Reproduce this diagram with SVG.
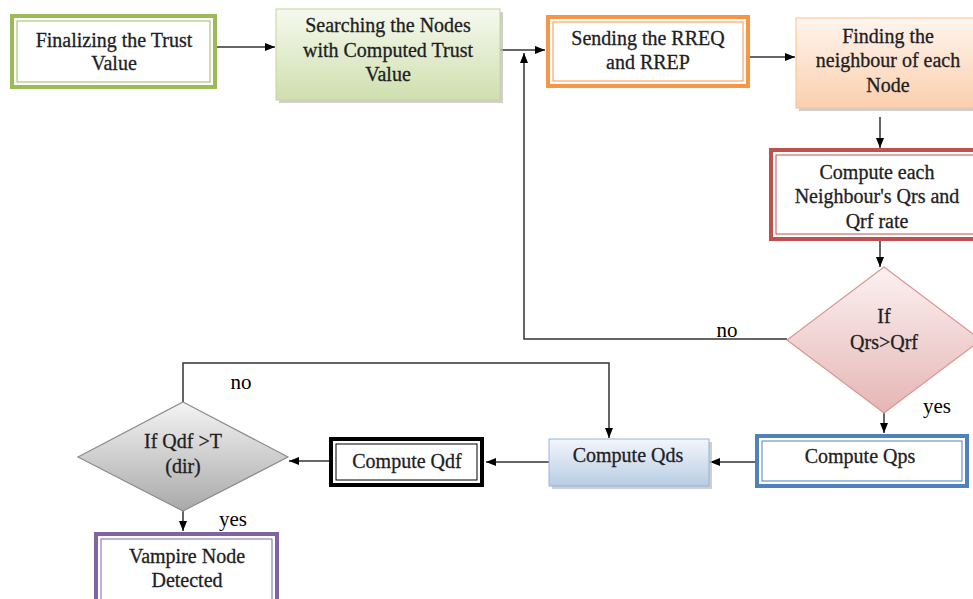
<svg xmlns="http://www.w3.org/2000/svg" width="973" height="599" viewBox="0 0 973 599">
<defs>
<linearGradient id="gGreen" x1="0" y1="0" x2="0" y2="1"><stop offset="0" stop-color="#f6f9ef"/><stop offset="1" stop-color="#cfdfae"/></linearGradient>
<linearGradient id="gOrange" x1="0" y1="0" x2="0" y2="1"><stop offset="0" stop-color="#fff5ee"/><stop offset="1" stop-color="#fbcfad"/></linearGradient>
<linearGradient id="gBlue" x1="0" y1="0" x2="0" y2="1"><stop offset="0" stop-color="#f3f6fb"/><stop offset="1" stop-color="#b8cce4"/></linearGradient>
<linearGradient id="gPink" x1="0" y1="0" x2="0" y2="1"><stop offset="0" stop-color="#fcf1f1"/><stop offset="1" stop-color="#e5b6b5"/></linearGradient>
<linearGradient id="gGray" x1="0" y1="0" x2="0" y2="1"><stop offset="0" stop-color="#f4f4f4"/><stop offset="1" stop-color="#a9a9a9"/></linearGradient>
<marker id="arr" viewBox="0 0 10 10" refX="10" refY="5" markerWidth="10" markerHeight="10" markerUnits="userSpaceOnUse" orient="auto"><path d="M0,1 L10,5 L0,9 z" fill="#000"/></marker>
</defs>
<style>
text{font-family:"Liberation Serif","Times New Roman",serif;font-size:20px;fill:#1e1e24;stroke:#1e1e24;stroke-width:0.3;text-anchor:middle}
.lbl{font-size:21px;fill:#000;stroke:none}
.c{fill:none;stroke:#333;stroke-width:1.5}
.a{marker-end:url(#arr)}
.sh{fill:#bbb;opacity:0.7}
</style>
<rect width="973" height="599" fill="#fff"/>
<g id="connectors">
<path class="c a" d="M217,47 H275"/>
<path class="c a" d="M500,50 H545"/>
<path class="c a" d="M750,57 H795"/>
<path class="c a" d="M880,117 V148"/>
<path class="c a" d="M880,241 V267"/>
<path class="c a" d="M787,339 H524 V53"/>
<path class="c a" d="M884,413 V433"/>
<path class="c a" d="M755,462 H710"/>
<path class="c a" d="M549,462 H486"/>
<path class="c a" d="M329,461 H289"/>
<path class="c a" d="M183,402 V363 H609 V438"/>
<path class="c a" d="M183,511 V531"/>
<text class="lbl" x="727" y="337">no</text>
<text class="lbl" x="937" y="413">yes</text>
<text class="lbl" x="241" y="389">no</text>
<text class="lbl" x="233" y="526">yes</text>
</g>
<g id="n1">
<rect x="12" y="16" width="203" height="71" fill="#fff" stroke="#9bbb59" stroke-width="4"/>
<rect x="17" y="21" width="193" height="61" fill="none" stroke="#9bbb59" stroke-width="1"/>
<text x="114" y="47">Finalizing the Trust</text>
<text x="114" y="70">Value</text>
</g>
<g id="n2">
<rect class="sh" x="279" y="12" width="224" height="91"/>
<rect x="276" y="9" width="224" height="91" fill="url(#gGreen)" stroke="#c3d69b" stroke-width="1"/>
<text x="388" y="32">Searching the Nodes</text>
<text x="388" y="57">with Computed Trust</text>
<text x="388" y="81">Value</text>
</g>
<g id="n3">
<rect x="548" y="17" width="200" height="69" fill="#fff" stroke="#f79646" stroke-width="4"/>
<rect x="553" y="22" width="190" height="59" fill="none" stroke="#f79646" stroke-width="1"/>
<text x="648" y="45">Sending the RREQ</text>
<text x="648" y="69">and RREP</text>
</g>
<g id="n4">
<rect class="sh" x="799" y="21" width="180" height="90"/>
<rect x="796" y="18" width="180" height="90" fill="url(#gOrange)" stroke="#fac08f" stroke-width="1"/>
<text x="888" y="43">Finding the</text>
<text x="888" y="67">neighbour of each</text>
<text x="888" y="92">Node</text>
</g>
<g id="n5">
<rect x="771" y="150" width="206" height="89" fill="#fff" stroke="#c0504d" stroke-width="4"/>
<rect x="776" y="155" width="200" height="79" fill="none" stroke="#c0504d" stroke-width="1"/>
<text x="877" y="179">Compute each</text>
<text x="877" y="203">Neighbour's Qrs and</text>
<text x="877" y="228">Qrf rate</text>
</g>
<g id="d1">
<polygon points="884,267 981,340 884,413 787,340" fill="url(#gPink)" stroke="#d99694" stroke-width="1.2"/>
<text x="884" y="323">If</text>
<text x="884" y="349">Qrs&gt;Qrf</text>
</g>
<g id="n6">
<rect x="757" y="436" width="210" height="50" fill="#fff" stroke="#4f81bd" stroke-width="4"/>
<rect x="762" y="441" width="200" height="40" fill="none" stroke="#4f81bd" stroke-width="1"/>
<text x="860" y="463">Compute Qps</text>
</g>
<g id="n7">
<rect class="sh" x="552" y="442" width="160" height="47"/>
<rect x="549" y="439" width="160" height="47" fill="url(#gBlue)" stroke="#95b3d7" stroke-width="1"/>
<text x="628" y="462">Compute Qds</text>
</g>
<g id="n8">
<rect x="331" y="439" width="151" height="46" fill="#fff" stroke="#000" stroke-width="4"/>
<rect x="336" y="444" width="141" height="36" fill="none" stroke="#000" stroke-width="1"/>
<text x="407" y="468">Compute Qdf</text>
</g>
<g id="d2">
<polygon points="183,402 288,457 183,511 78,457" fill="url(#gGray)" stroke="#8c8c8c" stroke-width="1.2"/>
<text x="183" y="448">If Qdf &gt;T</text>
<text x="183" y="473">(dir)</text>
</g>
<g id="n9">
<rect x="96" y="534" width="181" height="70" fill="#fff" stroke="#8064a2" stroke-width="4"/>
<rect x="101" y="539" width="171" height="65" fill="none" stroke="#8064a2" stroke-width="1"/>
<text x="187" y="563">Vampire Node</text>
<text x="187" y="587">Detected</text>
</g>
</svg>
